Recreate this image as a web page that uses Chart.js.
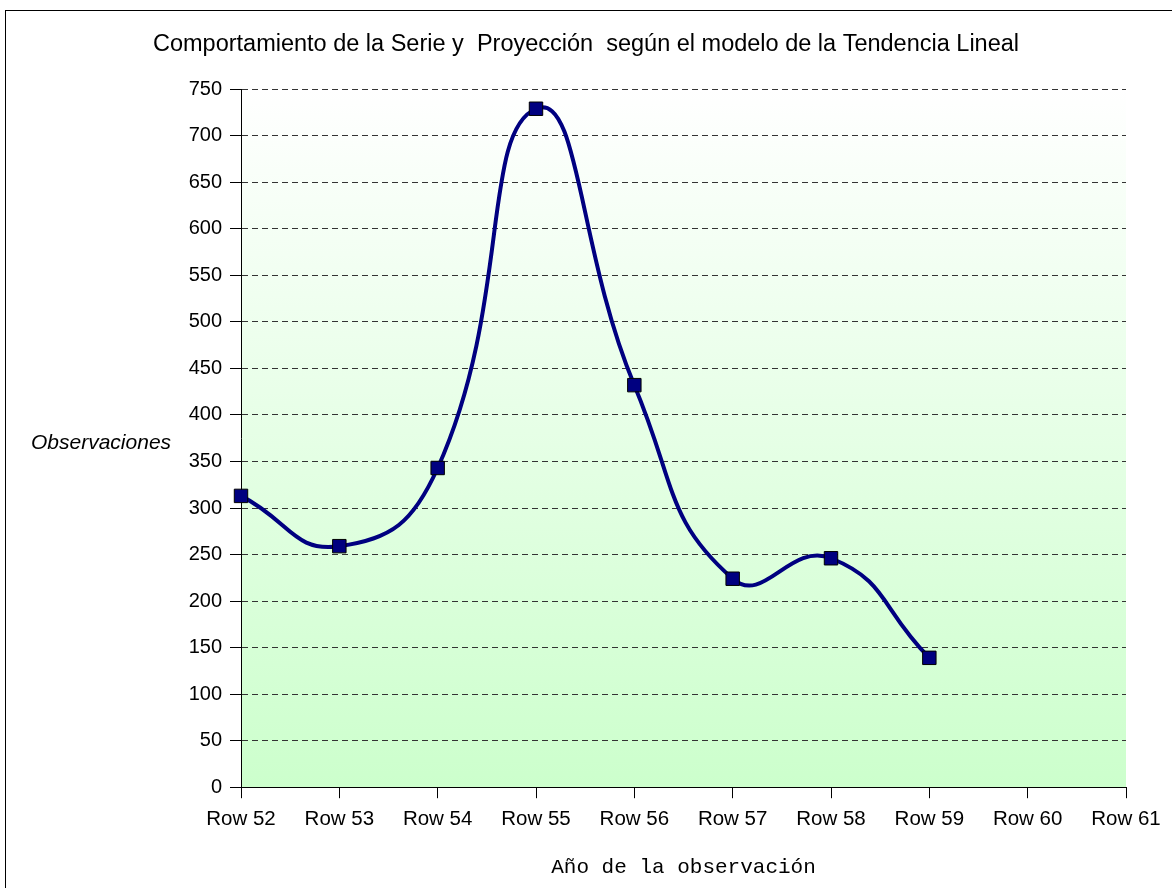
<!DOCTYPE html>
<html>
<head>
<meta charset="utf-8">
<title>Comportamiento de la Serie</title>
<script src="https://cdn.jsdelivr.net/npm/chart.js@4.4.1/dist/chart.umd.min.js"></script>
<style>
  html, body { margin: 0; padding: 0; background: #fff; }
  canvas { display: block; }
</style>
</head>
<body>
<canvas id="serieChart" width="1172" height="888"></canvas>
<script>
// data
const rowLabels = ["Row 52", "Row 53", "Row 54", "Row 55", "Row 56", "Row 57", "Row 58", "Row 59", "Row 60", "Row 61"];
const observaciones = [313, 259, 343, 729, 432, 224, 246, 139];
const yMin = 0;
const yMax = 750;
const yStep = 50;

const chartTitle = "Comportamiento de la Serie y  Proyección  según el modelo de la Tendencia Lineal";
const yTitle = "Observaciones";
const xTitle = "Año de la observación";

// outer frame + green gradient behind the plot
const backdrop = {
  id: "backdrop",
  beforeDraw(chart) {
    const { ctx, chartArea } = chart;
    ctx.save();
    ctx.fillStyle = "#ffffff";
    ctx.fillRect(0, 0, chart.width, chart.height);
    const grad = ctx.createLinearGradient(0, chartArea.top, 0, chartArea.bottom);
    grad.addColorStop(0, "#ffffff");
    grad.addColorStop(1, "#ccffcc");
    ctx.fillStyle = grad;
    ctx.fillRect(chartArea.left, chartArea.top, chartArea.right - chartArea.left, chartArea.bottom - chartArea.top);
    ctx.strokeStyle = "#000";
    ctx.lineWidth = 1;
    ctx.strokeRect(5.5, 10.5, 1300, 1000);
    ctx.restore();
  },
};

// horizontal y-axis title, like the original
const yLabel = {
  id: "yLabel",
  afterDraw(chart) {
    const { ctx } = chart;
    ctx.save();
    ctx.font = "italic 21px 'Liberation Sans', Arial, sans-serif";
    ctx.fillStyle = "#000";
    ctx.textAlign = "left";
    ctx.textBaseline = "middle";
    ctx.fillText(yTitle, 31, 443);
    ctx.restore();
  },
};

const ctx = document.getElementById("serieChart").getContext("2d");
new Chart(ctx, {
  type: "line",
  data: {
    labels: rowLabels,
    datasets: [{
      label: "Serie",
      data: observaciones,
      borderColor: "#000080",
      borderWidth: 4,
      tension: 0.5,
      fill: false,
      pointStyle: "rect",
      pointRadius: 9.5,
      pointBackgroundColor: "#000080",
      pointBorderColor: "#000",
      pointBorderWidth: 1,
    }],
  },
  options: {
    responsive: false,
    animation: false,
    layout: { padding: { left: 0, right: 0, top: 0, bottom: 8 } },
    plugins: {
      legend: { display: false },
      tooltip: { enabled: false },
      title: {
        display: true,
        text: chartTitle,
        color: "#000",
        font: { family: "'Liberation Sans', Arial, sans-serif", size: 23.5, weight: "normal" },
        padding: { top: 30, bottom: 31 },
      },
    },
    scales: {
      x: {
        offset: false,
        afterFit(scale) { scale.paddingRight = 46; },
        grid: {
          drawOnChartArea: false,
          drawTicks: true,
          tickLength: 11,
          tickColor: "#000",
        },
        border: { display: true, color: "#000", width: 1 },
        ticks: {
          color: "#000",
          padding: 9,
          maxRotation: 0,
          autoSkip: false,
          font: { family: "'Liberation Sans', Arial, sans-serif", size: 20.5 },
        },
        title: {
          display: true,
          text: xTitle,
          color: "#000",
          font: { family: "'Liberation Mono', 'Courier New', monospace", size: 21 },
          padding: { top: 14, bottom: 0 },
        },
      },
      y: {
        min: yMin,
        max: yMax,
        afterFit(scale) { scale.width = 241; },
        grid: {
          color: "#333",
          lineWidth: 1,
          tickLength: 11,
          tickColor: "#000",
          tickBorderDash: [],
        },
        border: { display: true, color: "#000", width: 1, dash: [6, 4] },
        ticks: {
          stepSize: yStep,
          color: "#000",
          padding: 8,
          font: { family: "'Liberation Sans', Arial, sans-serif", size: 20 },
        },
      },
    },
  },
  plugins: [backdrop, yLabel],
});
</script>
</body>
</html>
